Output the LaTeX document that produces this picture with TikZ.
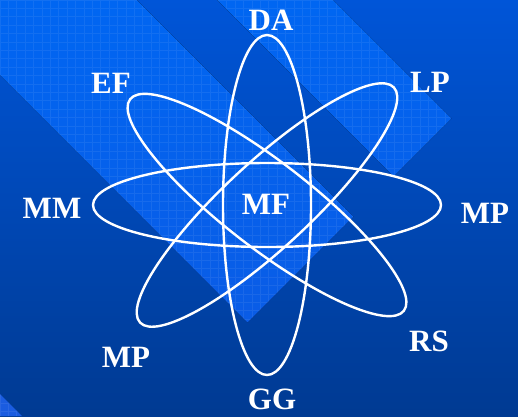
\documentclass[tikz,border=0pt]{standalone}
\usepackage{fontspec}
\setmainfont{Liberation Serif}
\definecolor{bgtop}{HTML}{0055D8}
\definecolor{bgbot}{HTML}{003A92}
\definecolor{littop}{HTML}{0066F2}
\definecolor{litbot}{HTML}{0A5CE6}
\definecolor{litlow}{HTML}{1A5CE0}

\begin{document}
\begin{tikzpicture}[x=1pt,y=-1pt,
  lbl/.style={text=white,font=\fontsize{31}{31}\selectfont\bfseries,anchor=base,inner sep=0pt},
  orbit/.style={draw=white,line width=2.4pt},
  gridln/.style={draw=white,opacity=0.07,line width=0.8pt,step=8.4pt}]
  \useasboundingbox (0,0) rectangle (518,416);
  \fill[top color=bgtop,bottom color=bgbot] (0,0) rectangle (518,416);
  \fill[top color=littop,bottom color=litbot] (0,0) -- (137,0) -- (353.5,216.5) -- (247.5,322.5) -- (0,75) -- cycle;
  \fill[top color=littop,bottom color=litbot!60!littop] (217,0) -- (333,0) -- (451.5,118.5) -- (393.5,176.5) -- cycle;
  \fill[litlow] (0,394) -- (22,416) -- (0,416) -- cycle;
  \begin{scope}
    \clip (0,0) -- (137,0) -- (353.5,216.5) -- (247.5,322.5) -- (0,75) -- cycle
      (217,0) -- (333,0) -- (451.5,118.5) -- (393.5,176.5) -- cycle
      (0,394) -- (22,416) -- (0,416) -- cycle;
    \draw[gridln] (0,416) grid (518,0);
  \end{scope}

  \coordinate (core) at (267,205);
  \draw[orbit] (core) ellipse [x radius=44, y radius=170];
  \draw[orbit] (core) ellipse [x radius=174, y radius=42];
  \draw[orbit,rotate around={42.8:(core)}] (core) ellipse [x radius=173, y radius=43];
  \draw[orbit,rotate around={-37.7:(core)}] (core) ellipse [x radius=173, y radius=43];

  \node[lbl] (mf) at (266,214) {MF};
  \node[lbl] (da) at (271,30) {DA};
  \node[lbl] (gg) at (272,409) {GG};
  \node[lbl] (ef) at (111,93) {EF};
  \node[lbl] (lp) at (430,92) {LP};
  \node[lbl] (mm) at (52,218) {MM};
  \node[lbl] (mpr) at (485,223) {MP};
  \node[lbl] (mpl) at (126,367) {MP};
  \node[lbl] (rs) at (429,351) {RS};
\end{tikzpicture}
\end{document}
